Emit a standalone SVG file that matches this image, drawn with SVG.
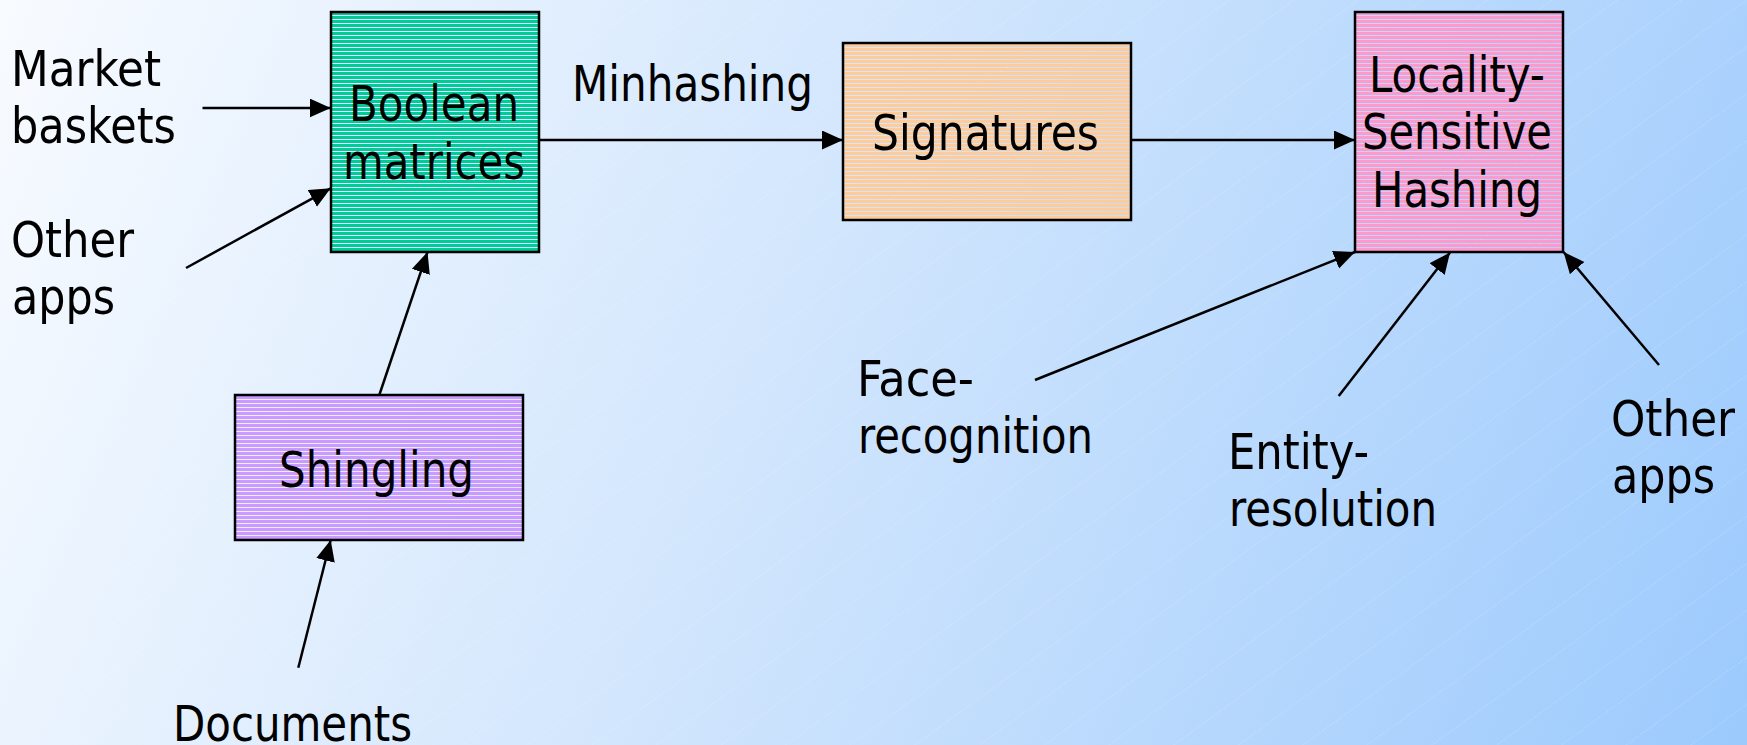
<svg xmlns="http://www.w3.org/2000/svg" width="1747" height="745" viewBox="0 0 1747 745">
<defs>
<linearGradient id="bg" x1="0" y1="0" x2="1747" y2="745" gradientUnits="userSpaceOnUse">
<stop offset="0" stop-color="#F8FBFF"/>
<stop offset="0.45" stop-color="#D2E6FD"/>
<stop offset="1" stop-color="#9CCAFD"/>
</linearGradient>
<pattern id="hatch" width="38" height="38" patternUnits="userSpaceOnUse" patternTransform="rotate(-36)">
<line x1="0" y1="0" x2="38" y2="0" stroke="#ffffff" stroke-width="0.8" stroke-opacity="0.45" stroke-dasharray="2 1.5"/>
</pattern>
<pattern id="pGreen" width="8" height="4" patternUnits="userSpaceOnUse"><rect width="8" height="3" fill="#00CC99"/></pattern>
<pattern id="pPurple" width="8" height="4" patternUnits="userSpaceOnUse"><rect width="8" height="3" fill="#CC99FF"/></pattern>
<pattern id="pOrange" width="8" height="4" patternUnits="userSpaceOnUse"><rect width="8" height="3" fill="#FFCC99"/></pattern>
<pattern id="pPink" width="8" height="4" patternUnits="userSpaceOnUse"><rect width="8" height="3" fill="#FF99CC"/></pattern>
<marker id="arr" markerUnits="userSpaceOnUse" markerWidth="22" markerHeight="20" refX="21" refY="9.5" orient="auto">
<path d="M0,0 L21,9.5 L0,19 z" fill="#000"/>
</marker>
<style>
text{font-family:"DejaVu Sans Condensed","DejaVu Sans",sans-serif;font-size:49px;fill:#000}
.box{stroke:#000;stroke-width:2.5}
#connectors line{stroke:#000;stroke-width:2.5;marker-end:url(#arr)}
</style>
</defs>
<rect width="1747" height="745" fill="url(#bg)"/>
<rect width="1747" height="745" fill="url(#hatch)"/>

<g id="connectors">
<line x1="202.5" y1="108" x2="330.7" y2="108"/>
<line x1="186" y1="268" x2="330.7" y2="188.3"/>
<line x1="379.3" y1="395" x2="427.5" y2="252"/>
<line x1="298.3" y1="667.7" x2="330.7" y2="540"/>
<line x1="539" y1="140" x2="843" y2="140"/>
<line x1="1131" y1="140" x2="1355" y2="140"/>
<line x1="1035" y1="380" x2="1355" y2="252"/>
<line x1="1338.7" y1="396" x2="1450" y2="252.5"/>
<line x1="1659" y1="365" x2="1563.6" y2="252"/>
</g>

<g id="boolean">
<rect class="box" x="331" y="12" width="208" height="240" fill="url(#pGreen)"/>
<text x="349" y="121" textLength="170" lengthAdjust="spacingAndGlyphs">Boolean</text>
<text x="343" y="179" textLength="182" lengthAdjust="spacingAndGlyphs">matrices</text>
</g>
<g id="shingling">
<rect class="box" x="235" y="395" width="288" height="145" fill="url(#pPurple)"/>
<text x="279" y="487" textLength="195" lengthAdjust="spacingAndGlyphs">Shingling</text>
</g>
<g id="signatures">
<rect class="box" x="843" y="43" width="288" height="177" fill="url(#pOrange)"/>
<text x="872" y="150" textLength="227" lengthAdjust="spacingAndGlyphs">Signatures</text>
</g>
<g id="lsh">
<rect class="box" x="1355" y="12" width="208" height="240" fill="url(#pPink)"/>
<text x="1369" y="92" textLength="176" lengthAdjust="spacingAndGlyphs">Locality-</text>
<text x="1362" y="149" textLength="190" lengthAdjust="spacingAndGlyphs">Sensitive</text>
<text x="1372" y="207" textLength="170" lengthAdjust="spacingAndGlyphs">Hashing</text>
</g>

<g id="market-baskets">
<text x="11" y="86" textLength="150" lengthAdjust="spacingAndGlyphs">Market</text>
<text x="11" y="143" textLength="165" lengthAdjust="spacingAndGlyphs">baskets</text>
</g>
<g id="other-apps-left">
<text x="11" y="257" textLength="123" lengthAdjust="spacingAndGlyphs">Other</text>
<text x="12" y="314" textLength="103" lengthAdjust="spacingAndGlyphs">apps</text>
</g>
<g id="documents">
<text x="173" y="741" textLength="239" lengthAdjust="spacingAndGlyphs">Documents</text>
</g>
<g id="minhashing">
<text x="572" y="101" textLength="241" lengthAdjust="spacingAndGlyphs">Minhashing</text>
</g>
<g id="face-recognition">
<text x="857" y="396" textLength="117" lengthAdjust="spacingAndGlyphs">Face-</text>
<text x="858" y="453" textLength="235" lengthAdjust="spacingAndGlyphs">recognition</text>
</g>
<g id="entity-resolution">
<text x="1228" y="469" textLength="141" lengthAdjust="spacingAndGlyphs">Entity-</text>
<text x="1229" y="526" textLength="208" lengthAdjust="spacingAndGlyphs">resolution</text>
</g>
<g id="other-apps-right">
<text x="1611" y="436" textLength="124" lengthAdjust="spacingAndGlyphs">Other</text>
<text x="1612" y="493" textLength="103" lengthAdjust="spacingAndGlyphs">apps</text>
</g>
</svg>
